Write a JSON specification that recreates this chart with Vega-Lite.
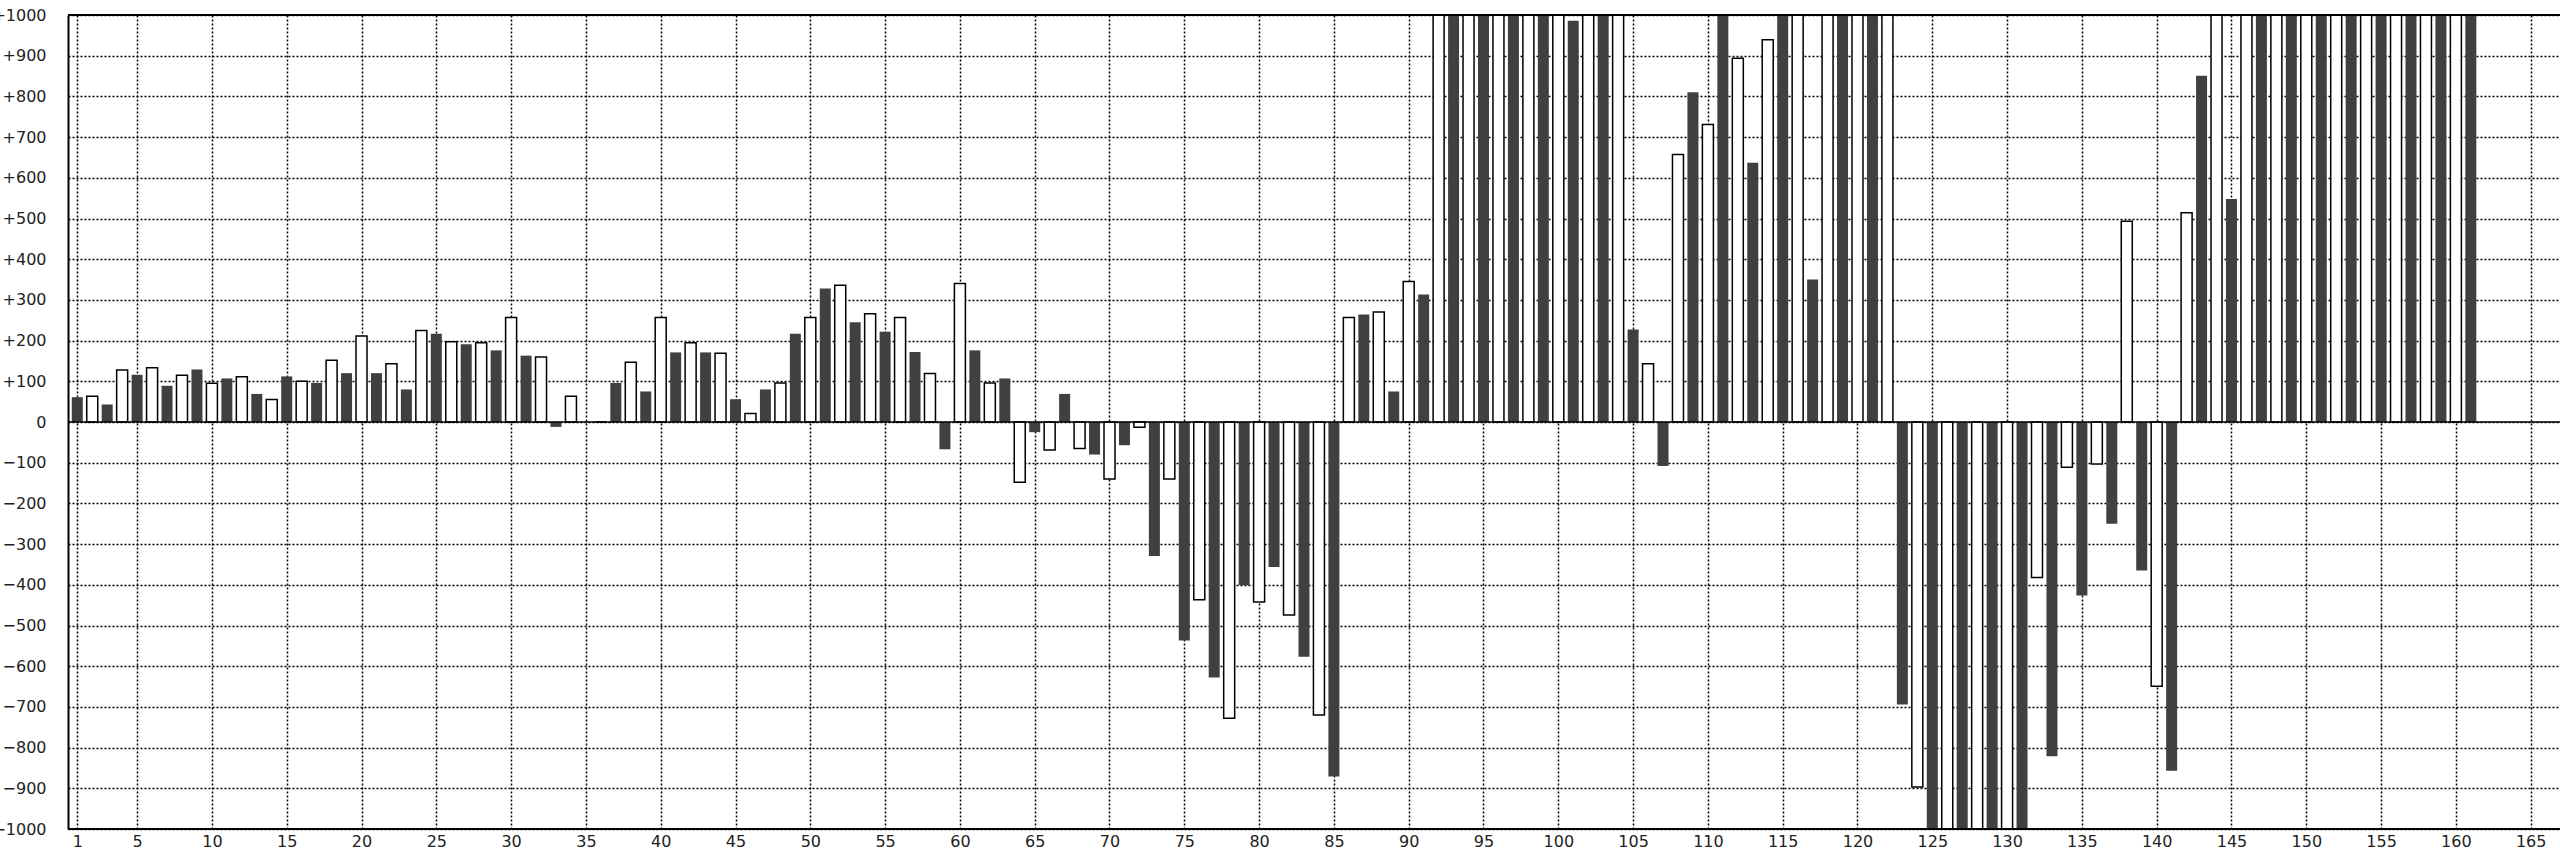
{
  "$schema": "https://vega.github.io/schema/vega-lite/v6.json",
  "autosize": {"type": "none"},
  "padding": {"left": 68, "top": 15, "right": 0, "bottom": 20},
  "width": 2492,
  "height": 814,
  "background": "white",
  "config": {
    "view": {"stroke": null},
    "axis": {"labelFont": "DejaVu Sans", "labelFontSize": 16, "labelColor": "#222222", "labelFlush": false, "labelOverlap": false}
  },
  "data": {"values": [
    {"n":1,"v":61,"s":"A"},{"n":2,"v":63,"s":"B"},{"n":3,"v":43,"s":"A"},{"n":4,"v":128,"s":"B"},{"n":5,"v":116,"s":"A"},
    {"n":6,"v":133,"s":"B"},{"n":7,"v":89,"s":"A"},{"n":8,"v":115,"s":"B"},{"n":9,"v":129,"s":"A"},{"n":10,"v":95,"s":"B"},
    {"n":11,"v":107,"s":"A"},{"n":12,"v":111,"s":"B"},{"n":13,"v":69,"s":"A"},{"n":14,"v":55,"s":"B"},{"n":15,"v":112,"s":"A"},
    {"n":16,"v":100,"s":"B"},{"n":17,"v":96,"s":"A"},{"n":18,"v":152,"s":"B"},{"n":19,"v":120,"s":"A"},{"n":20,"v":211,"s":"B"},
    {"n":21,"v":120,"s":"A"},{"n":22,"v":143,"s":"B"},{"n":23,"v":80,"s":"A"},{"n":24,"v":225,"s":"B"},{"n":25,"v":217,"s":"A"},
    {"n":26,"v":197,"s":"B"},{"n":27,"v":191,"s":"A"},{"n":28,"v":195,"s":"B"},{"n":29,"v":176,"s":"A"},{"n":30,"v":257,"s":"B"},
    {"n":31,"v":163,"s":"A"},{"n":32,"v":160,"s":"B"},{"n":33,"v":-12,"s":"A"},{"n":34,"v":63,"s":"B"},{"n":35,"v":0,"s":"A"},
    {"n":36,"v":0,"s":"B"},{"n":37,"v":96,"s":"A"},{"n":38,"v":147,"s":"B"},{"n":39,"v":75,"s":"A"},{"n":40,"v":257,"s":"B"},
    {"n":41,"v":171,"s":"A"},{"n":42,"v":195,"s":"B"},{"n":43,"v":171,"s":"A"},{"n":44,"v":169,"s":"B"},{"n":45,"v":56,"s":"A"},
    {"n":46,"v":21,"s":"B"},{"n":47,"v":80,"s":"A"},{"n":48,"v":96,"s":"B"},{"n":49,"v":217,"s":"A"},{"n":50,"v":257,"s":"B"},
    {"n":51,"v":328,"s":"A"},{"n":52,"v":336,"s":"B"},{"n":53,"v":245,"s":"A"},{"n":54,"v":266,"s":"B"},{"n":55,"v":222,"s":"A"},
    {"n":56,"v":257,"s":"B"},{"n":57,"v":172,"s":"A"},{"n":58,"v":119,"s":"B"},{"n":59,"v":-67,"s":"A"},{"n":60,"v":340,"s":"B"},
    {"n":61,"v":176,"s":"A"},{"n":62,"v":96,"s":"B"},{"n":63,"v":107,"s":"A"},{"n":64,"v":-148,"s":"B"},{"n":65,"v":-25,"s":"A"},
    {"n":66,"v":-69,"s":"B"},{"n":67,"v":69,"s":"A"},{"n":68,"v":-65,"s":"B"},{"n":69,"v":-80,"s":"A"},{"n":70,"v":-140,"s":"B"},
    {"n":71,"v":-57,"s":"A"},{"n":72,"v":-13,"s":"B"},{"n":73,"v":-329,"s":"A"},{"n":74,"v":-140,"s":"B"},{"n":75,"v":-537,"s":"A"},
    {"n":76,"v":-437,"s":"B"},{"n":77,"v":-628,"s":"A"},{"n":78,"v":-728,"s":"B"},{"n":79,"v":-401,"s":"A"},{"n":80,"v":-442,"s":"B"},
    {"n":81,"v":-356,"s":"A"},{"n":82,"v":-474,"s":"B"},{"n":83,"v":-577,"s":"A"},{"n":84,"v":-720,"s":"B"},{"n":85,"v":-871,"s":"A"},
    {"n":86,"v":257,"s":"B"},{"n":87,"v":264,"s":"A"},{"n":88,"v":270,"s":"B"},{"n":89,"v":75,"s":"A"},{"n":90,"v":345,"s":"B"},
    {"n":91,"v":313,"s":"A"},{"n":92,"v":1100,"s":"B"},{"n":93,"v":1100,"s":"A"},{"n":94,"v":1100,"s":"B"},{"n":95,"v":1100,"s":"A"},
    {"n":96,"v":1100,"s":"B"},{"n":97,"v":1100,"s":"A"},{"n":98,"v":1100,"s":"B"},{"n":99,"v":1100,"s":"A"},{"n":100,"v":1100,"s":"B"},
    {"n":101,"v":986,"s":"A"},{"n":102,"v":1100,"s":"B"},{"n":103,"v":1100,"s":"A"},{"n":104,"v":1100,"s":"B"},{"n":105,"v":227,"s":"A"},
    {"n":106,"v":143,"s":"B"},{"n":107,"v":-108,"s":"A"},{"n":108,"v":657,"s":"B"},{"n":109,"v":810,"s":"A"},{"n":110,"v":731,"s":"B"},
    {"n":111,"v":1100,"s":"A"},{"n":112,"v":894,"s":"B"},{"n":113,"v":637,"s":"A"},{"n":114,"v":939,"s":"B"},{"n":115,"v":1100,"s":"A"},
    {"n":116,"v":1100,"s":"B"},{"n":117,"v":350,"s":"A"},{"n":118,"v":1100,"s":"B"},{"n":119,"v":1100,"s":"A"},{"n":120,"v":1100,"s":"B"},
    {"n":121,"v":1100,"s":"A"},{"n":122,"v":1100,"s":"B"},{"n":123,"v":-694,"s":"A"},{"n":124,"v":-897,"s":"B"},{"n":125,"v":-1100,"s":"A"},
    {"n":126,"v":-1100,"s":"B"},{"n":127,"v":-1100,"s":"A"},{"n":128,"v":-1100,"s":"B"},{"n":129,"v":-1100,"s":"A"},{"n":130,"v":-1100,"s":"B"},
    {"n":131,"v":-1100,"s":"A"},{"n":132,"v":-382,"s":"B"},{"n":133,"v":-821,"s":"A"},{"n":134,"v":-111,"s":"B"},{"n":135,"v":-426,"s":"A"},
    {"n":136,"v":-103,"s":"B"},{"n":137,"v":-250,"s":"A"},{"n":138,"v":493,"s":"B"},{"n":139,"v":-365,"s":"A"},{"n":140,"v":-649,"s":"B"},
    {"n":141,"v":-857,"s":"A"},{"n":142,"v":514,"s":"B"},{"n":143,"v":851,"s":"A"},{"n":144,"v":1100,"s":"B"},{"n":145,"v":548,"s":"A"},
    {"n":146,"v":1100,"s":"B"},{"n":147,"v":1100,"s":"A"},{"n":148,"v":1100,"s":"B"},{"n":149,"v":1100,"s":"A"},{"n":150,"v":1100,"s":"B"},
    {"n":151,"v":1100,"s":"A"},{"n":152,"v":1100,"s":"B"},{"n":153,"v":1100,"s":"A"},{"n":154,"v":1100,"s":"B"},{"n":155,"v":1100,"s":"A"},
    {"n":156,"v":1100,"s":"B"},{"n":157,"v":1100,"s":"A"},{"n":158,"v":1100,"s":"B"},{"n":159,"v":1100,"s":"A"},{"n":160,"v":1100,"s":"B"},
    {"n":161,"v":1100,"s":"A"}
  ]},
  "layer": [
    {
      "mark": {"type": "bar", "size": 11, "clip": true, "strokeWidth": 1.5},
      "encoding": {
        "x": {
          "field": "n", "type": "quantitative",
          "scale": {"domain": [0.38, 166.96], "nice": false, "zero": false, "padding": 0},
          "axis": {
            "title": null,
            "values": [1,5,10,15,20,25,30,35,40,45,50,55,60,65,70,75,80,85,90,95,100,105,110,115,120,125,130,135,140,145,150,155,160,165],
            "grid": true, "gridColor": "#000000", "gridDash": [2,2], "gridWidth": 1.5, "gridOpacity": 1,
            "ticks": false, "domain": false, "labelPadding": 4
          }
        },
        "y": {
          "field": "v", "type": "quantitative",
          "scale": {"domain": [-1000, 1000], "nice": false, "padding": 0},
          "axis": {
            "title": null,
            "values": [-1000,-900,-800,-700,-600,-500,-400,-300,-200,-100,0,100,200,300,400,500,600,700,800,900,1000],
            "labelExpr": "datum.value > 0 ? '+' + datum.value : (datum.value < 0 ? '−' + abs(datum.value) : '0')",
            "grid": true, "gridColor": "#000000", "gridDash": [2,2], "gridWidth": 1.5, "gridOpacity": 1,
            "ticks": false, "domain": true, "domainColor": "#000000", "domainWidth": 2, "labelPadding": 22
          }
        },
        "fill": {"field": "s", "type": "nominal", "scale": {"domain": ["A","B"], "range": ["#404040", "#ffffff"]}, "legend": null},
        "stroke": {"condition": {"test": "datum.s === 'B'", "value": "#000000"}, "value": "transparent"}
      }
    },
    {
      "data": {"values": [{"level": 0}]},
      "mark": {"type": "rule", "color": "#000000", "strokeWidth": 1.5},
      "encoding": {"y": {"field": "level", "type": "quantitative"}}
    },
    {
      "data": {"values": [{"level": 1000}, {"level": -1000}]},
      "mark": {"type": "rule", "color": "#000000", "strokeWidth": 2},
      "encoding": {"y": {"field": "level", "type": "quantitative"}}
    }
  ]
}
